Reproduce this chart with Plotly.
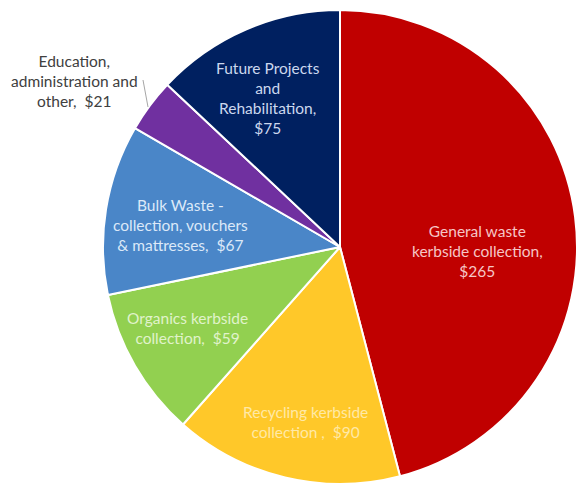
import plotly.graph_objects as go

# ---- data ----
categories = [
    "General waste kerbside collection",
    "Recycling kerbside collection",
    "Organics kerbside collection",
    "Bulk Waste - collection, vouchers & mattresses",
    "Education, administration and other",
    "Future Projects and Rehabilitation",
]
values = [265, 90, 59, 67, 21, 75]
label_templates = [
    "General waste<br>kerbside collection,<br>${}",
    "Recycling kerbside<br>collection ,  ${}",
    "Organics kerbside<br>collection,  ${}",
    "Bulk Waste -<br>collection, vouchers<br>&amp; mattresses,  ${}",
    "Education,<br>administration and<br>other,  ${}",
    "Future Projects<br>and<br>Rehabilitation,<br>${}",
]
slice_colors = ["#C00000", "#FFC829", "#92D050", "#4A86C8", "#7030A0", "#002060"]
text_colors = ["#F6C6C6", "#FFE9A6", "#E0F3CB", "#DCE9F8", "#404040", "#CCD8EE"]
# label block centres in pixels (x, y from top)
label_pos = [(477, 251), (305, 422), (187, 328), (180, 225), (74, 81), (268, 98)]

W, H = 577, 484

fig = go.Figure()
fig.add_trace(go.Pie(
    labels=categories,
    values=values,
    sort=False,
    direction="clockwise",
    rotation=0,
    textinfo="none",
    hoverinfo="label+value",
    marker=dict(colors=slice_colors, line=dict(color="white", width=2)),
    domain=dict(x=[103 / W, 1.0], y=[0.0, 1 - 10 / H]),
    showlegend=False,
))

for tpl, v, tc, (px, py) in zip(label_templates, values, text_colors, label_pos):
    fig.add_annotation(
        text=tpl.format(v),
        x=px / W, y=1 - py / H, xref="paper", yref="paper",
        xanchor="center", yanchor="middle", showarrow=False,
        font=dict(family="Lato, Carlito, Calibri, sans-serif", size=15.5, color=tc),
        align="center",
    )

# leader line for the small slice
fig.add_shape(type="line", xref="paper", yref="paper",
              x0=143 / W, y0=1 - 80 / H, x1=148 / W, y1=1 - 107 / H,
              line=dict(color="#A6A6A6", width=1))

fig.update_layout(
    width=W, height=H,
    margin=dict(l=0, r=0, t=0, b=0),
    paper_bgcolor="white", plot_bgcolor="white",
)

fig.write_html("out.html")
